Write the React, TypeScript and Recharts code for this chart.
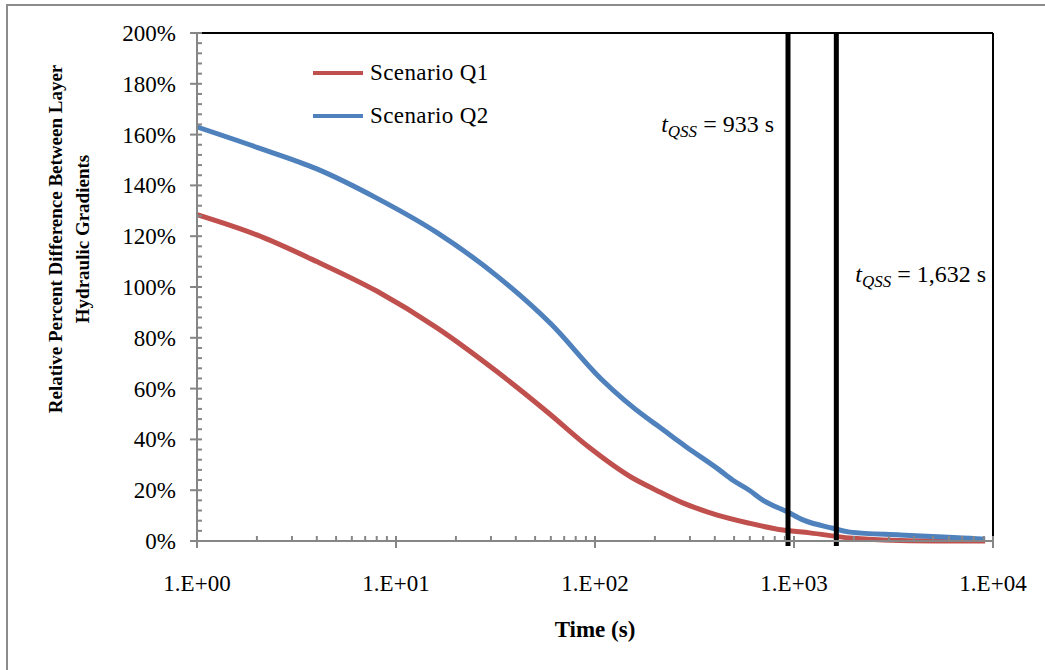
import React from "react";
import {
  LineChart,
  Line,
  XAxis,
  YAxis,
  ReferenceLine,
  Legend,
} from "recharts";

// time (s) and relative percent difference
const q1Time = [1, 2, 4, 8, 16, 32, 58, 93, 153, 203, 276, 408, 596, 880, 1201, 1908, 2810, 5050, 9130];
const q1Value = [128.5, 120.5, 110, 98.4, 84, 66.8, 50.6, 37, 25, 20, 15, 10.3, 7, 4.3, 3.2, 1.2, 0.4, 0, 0];

const q2Time = [1, 2, 4, 8, 16, 32, 60, 108, 181, 210, 245, 288, 421, 491, 596, 700, 924, 1109, 1572, 1908, 3420, 5640, 8770, 9130];
const q2Value = [163, 155, 146.5, 135, 121.5, 104.5, 85.5, 63.6, 48.6, 45, 41, 37, 28, 24, 20, 16, 11.5, 8.3, 5, 3.5, 2.4, 1.6, 0.8, 0.7];

const qssTimes = [933, 1632];
const qssLabels = ["933 s", "1,632 s"];

const decades = [1, 10, 100, 1000];
const xTicks = [...decades.flatMap((d) => [1, 2, 3, 4, 5, 6, 7, 8, 9].map((m) => m * d)), 10000];
const yTicks = Array.from({ length: 51 }, (_, i) => i * 4);

const q1Data = q1Time.map((t, i) => ({ t, v: q1Value[i] }));
const q2Data = q2Time.map((t, i) => ({ t, v: q2Value[i] }));

const FONT = "Liberation Serif, serif";
const AXIS = "#868686";
const RED = "#C0504D";
const BLUE = "#4F81BD";

const YTick = (props: any) => {
  const { x, y, payload } = props;
  const v = payload.value;
  const major = v % 20 === 0;
  return (
    <g>
      <line x1={major ? x - 7 : x} x2={x + 5} y1={y} y2={y} stroke={AXIS} strokeWidth={2} />
      {major && (
        <text x={x - 21} y={y} dy={8} textAnchor="end" fontFamily={FONT} fontSize={23} fill="#000">
          {v}%
        </text>
      )}
    </g>
  );
};

const XTick = (props: any) => {
  const { x, y, payload } = props;
  const v = payload.value;
  const exp = Math.log10(v);
  const major = Math.abs(exp - Math.round(exp)) < 1e-9;
  return (
    <g>
      <line x1={x} x2={x} y1={y - 5} y2={major ? y + 7 : y} stroke={AXIS} strokeWidth={2} />
      {major && (
        <text x={x} y={y + 50} textAnchor="middle" fontFamily={FONT} fontSize={23} fill="#000">
          {`1.E+0${Math.round(exp)}`}
        </text>
      )}
    </g>
  );
};

const YTitle = (props: any) => {
  const { viewBox } = props;
  const cy = viewBox.y + viewBox.height / 2 - 48;
  const x1 = viewBox.x + 42;
  const x2 = viewBox.x + 69;
  return (
    <g fontFamily={FONT} fontSize={19} fontWeight="bold" fill="#000">
      <text x={x1} y={cy} textAnchor="middle" transform={`rotate(-90 ${x1} ${cy})`}>
        Relative Percent Difference Between Layer
      </text>
      <text x={x2} y={cy} textAnchor="middle" transform={`rotate(-90 ${x2} ${cy})`}>
        Hydraulic Gradients
      </text>
    </g>
  );
};

const XTitle = (props: any) => {
  const { viewBox } = props;
  return (
    <text x={viewBox.x + viewBox.width / 2} y={viewBox.y + 96} textAnchor="middle" fontFamily={FONT} fontSize={23} fontWeight="bold" fill="#000">
      Time (s)
    </text>
  );
};

const qssLabel = (text: string, side: "left" | "right", drop: number) => (props: any) => {
  const { viewBox } = props;
  const x = side === "left" ? viewBox.x - 14 : viewBox.x + 19;
  return (
    <text x={x} y={viewBox.y + drop} textAnchor={side === "left" ? "end" : "start"} fontFamily={FONT} fontSize={24} fill="#000">
      <tspan fontStyle="italic">t</tspan>
      <tspan fontStyle="italic" fontSize={17} dy={5}>QSS</tspan>
      <tspan dy={-5}>{` = ${text}`}</tspan>
    </text>
  );
};

const LegendBox = (props: any) => {
  const { payload } = props;
  return (
    <div style={{ fontFamily: FONT, fontSize: 23, color: "#000" }}>
      {payload.map((p: any) => (
        <div key={p.value} style={{ display: "flex", alignItems: "center", height: 43, whiteSpace: "nowrap" }}>
          <div style={{ width: 50, height: 4, background: p.color, marginRight: 7 }} />
          <span style={{ fontFamily: FONT, fontSize: 23, letterSpacing: 0.4 }}>{p.value}</span>
        </div>
      ))}
    </div>
  );
};

export default function App() {
  return (
    <div style={{ position: "absolute", left: 0, top: 0, width: 1045, height: 670, overflow: "hidden", background: "#fff" }}>
      <div style={{ position: "absolute", left: 6, top: 4, width: 1200, height: 900, border: "2px solid #8c8c8c" }} />
      <div style={{ position: "absolute", left: 0, top: 0 }}>
        <LineChart width={1045} height={670} margin={{ top: 33, right: 52, bottom: 29, left: 20 }}>
          <XAxis
            type="number"
            dataKey="t"
            scale="log"
            domain={[1, 10000]}
            ticks={xTicks}
            interval={0}
            allowDataOverflow
            height={100}
            tickSize={0}
            tickMargin={0}
            tickLine={false}
            tick={<XTick />}
            stroke={AXIS}
            strokeWidth={2}
            label={<XTitle />}
          />
          <YAxis
            type="number"
            domain={[0, 200]}
            ticks={yTicks}
            interval={0}
            width={177}
            tickSize={0}
            tickMargin={0}
            tickLine={false}
            tick={<YTick />}
            stroke={AXIS}
            strokeWidth={2}
            label={<YTitle />}
          />
          <Legend
            layout="vertical"
            align="center"
            verticalAlign="middle"
            content={<LegendBox />}
            wrapperStyle={{ left: 313, top: 51, width: 230, height: 86 }}
          />
          <Line data={q1Data} dataKey="v" name="Scenario Q1" type="monotone" stroke={RED} strokeWidth={5} dot={false} isAnimationActive={false} />
          <Line data={q2Data} dataKey="v" name="Scenario Q2" type="monotone" stroke={BLUE} strokeWidth={5} dot={false} isAnimationActive={false} />
          <ReferenceLine y={200} stroke="#000" strokeWidth={2} />
          <ReferenceLine x={10000} stroke="#000" strokeWidth={2} />
          <ReferenceLine
            segment={[{ x: qssTimes[0], y: -2 }, { x: qssTimes[0], y: 200 }]}
            ifOverflow="visible"
            stroke="#000"
            strokeWidth={5}
            label={qssLabel(qssLabels[0], "left", 99)}
          />
          <ReferenceLine
            segment={[{ x: qssTimes[1], y: -2 }, { x: qssTimes[1], y: 200 }]}
            ifOverflow="visible"
            stroke="#000"
            strokeWidth={5}
            label={qssLabel(qssLabels[1], "right", 249)}
          />
        </LineChart>
      </div>
    </div>
  );
}
